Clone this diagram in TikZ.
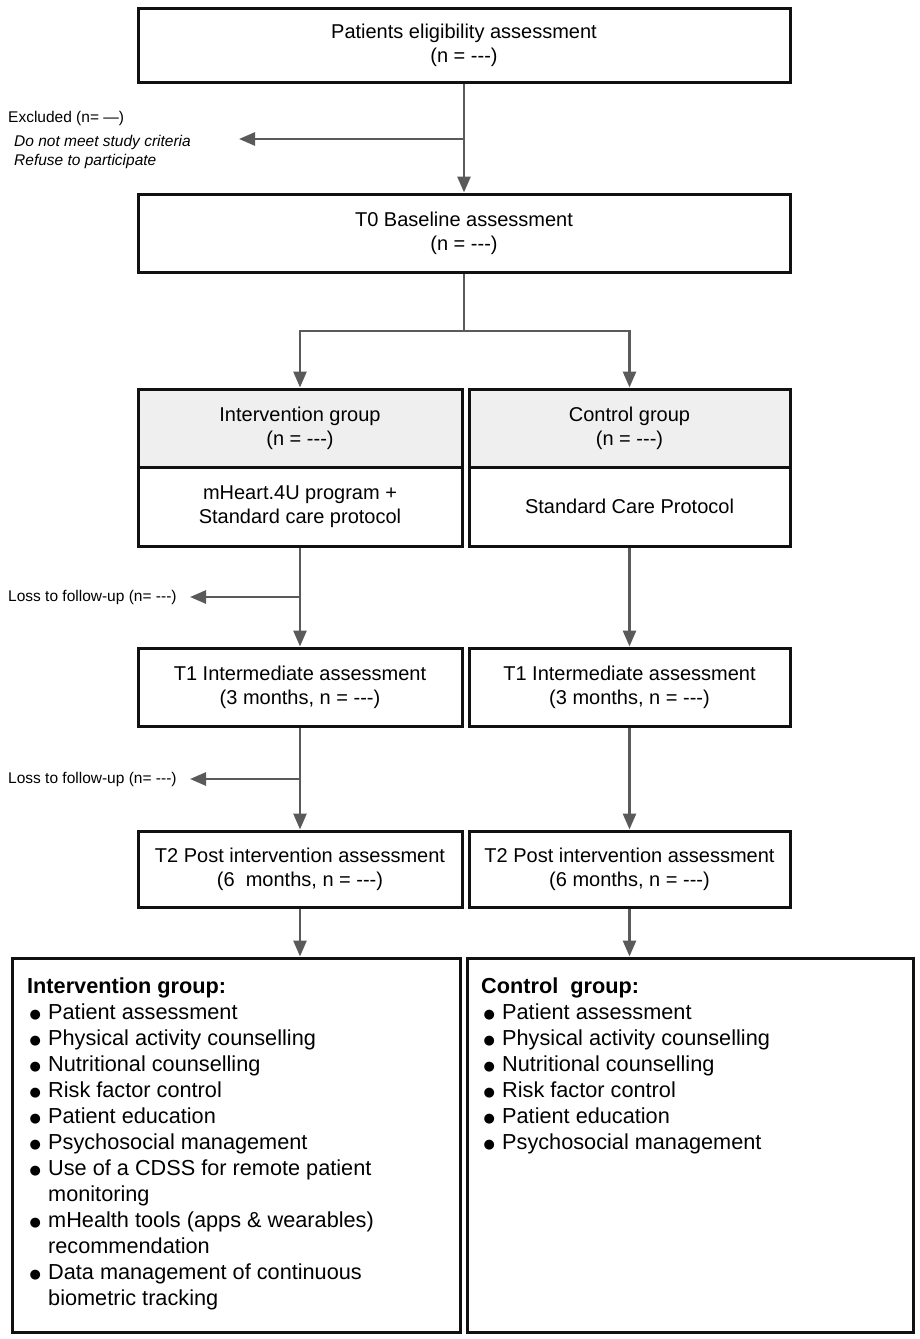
\documentclass[tikz,border=0pt]{standalone}
\usepackage{fontspec}
\setmainfont{Liberation Sans}
\newfontfamily\dejavu{DejaVu Sans}
\usetikzlibrary{arrows.meta}
\definecolor{boxc}{HTML}{111111}
\definecolor{connc}{HTML}{5A5A5A}
\definecolor{headc}{HTML}{EFEFEF}
\newcommand{\nd}{\mbox{-}\mbox{-}\mbox{-}}
\newcommand{\bul}{\makebox[21pt][l]{\hspace{2.3pt}\raisebox{1.2pt}{\dejavu\fontsize{13pt}{13pt}\selectfont ●}}}
\newcommand{\ind}{\hspace*{21pt}}
\begin{document}
\begin{tikzpicture}[x=1pt,y=-1pt,
  box/.style={draw=boxc,line width=3pt,inner sep=0pt,align=center,
    font=\fontsize{20pt}{24pt}\selectfont},
  head/.style={box,fill=headc},
  conn/.style={draw=connc,line width=2.7pt},
  arr/.style={conn,-{Triangle[length=16pt,width=13pt]}},
  small/.style={inner sep=0pt,font=\fontsize{15.5pt}{19.7pt}\selectfont},
  list/.style={inner sep=0pt,align=left,anchor=north west,
    font=\fontsize{21.7pt}{26pt}\selectfont}]
\useasboundingbox[fill=white] (0,0) rectangle (920,1339);

% boxes
\node[box,minimum width=652pt,minimum height=74pt] (elig) at (464,45)
  {Patients eligibility assessment\\(n = \nd)};
\node[box,minimum width=652pt,minimum height=78pt] (t0) at (464,233)
  {T0 Baseline assessment\\(n = \nd)};
\node[head,minimum width=324pt,minimum height=78pt] (ih) at (300,428)
  {Intervention group\\(n = \nd)};
\node[box,minimum width=324pt,minimum height=79pt] (ib) at (300,506.5)
  {mHeart.4U program +\\Standard care protocol};
\node[head,minimum width=321pt,minimum height=78pt] (ch) at (629.5,428)
  {Control group\\(n = \nd)};
\node[box,minimum width=321pt,minimum height=79pt] (cb) at (629.5,506.5)
  {Standard Care Protocol};
\node[box,minimum width=324pt,minimum height=78pt] (t1l) at (300,687)
  {T1 Intermediate assessment\\(3 months, n = \nd)};
\node[box,minimum width=321pt,minimum height=78pt] (t1r) at (629.5,687)
  {T1 Intermediate assessment\\(3 months, n = \nd)};
\node[box,minimum width=324pt,minimum height=76pt] (t2l) at (300,869)
  {T2 Post intervention assessment\\(6\ \ months, n = \nd)};
\node[box,minimum width=321pt,minimum height=76pt] (t2r) at (629.5,869)
  {T2 Post intervention assessment\\(6 months, n = \nd)};
\node[box,minimum width=448pt,minimum height=374pt] (bl) at (236,1145) {};
\node[box,minimum width=446pt,minimum height=374pt] (br) at (690,1145) {};

% list texts
\node[list] (blt) at (27,977.5) {\textbf{Intervention group:}\\
\bul Patient assessment\\
\bul Physical activity counselling\\
\bul Nutritional counselling\\
\bul Risk factor control\\
\bul Patient education\\
\bul Psychosocial management\\
\bul Use of a CDSS for remote patient\\
\ind monitoring\\
\bul mHealth tools (apps \& wearables)\\
\ind recommendation\\
\bul Data management of continuous\\
\ind biometric tracking};
\node[list] (brt) at (481,977.5) {\textbf{Control\ \ group:}\\
\bul Patient assessment\\
\bul Physical activity counselling\\
\bul Nutritional counselling\\
\bul Risk factor control\\
\bul Patient education\\
\bul Psychosocial management};

% side texts
\node[small,align=left,anchor=north west] (excl) at (8,111.5)
  {Excluded (n= —)\\[3.6pt]
   \hspace*{6pt}\textit{Do not meet study criteria}\\
   \hspace*{6pt}\textit{Refuse to participate}};
\node[small,anchor=west] (loss1) at (8,597) {Loss to follow-up (n= \nd)};
\node[small,anchor=west] (loss2) at (8,779) {Loss to follow-up (n= \nd)};

% connectors
\coordinate (exj) at (464,139);
\coordinate (ext) at (239,139);
\coordinate (split) at (464,331);
\coordinate (l1j) at (300,597);
\coordinate (l1t) at (190,597);
\coordinate (l2j) at (300,779);
\coordinate (l2t) at (190,779);

\draw[arr] (elig.south) -- (t0.north);
\draw[arr] (exj) -- (ext);
\draw[conn] (t0.south) -- (split);
\draw[arr] (split) -| (ih.north);
\draw[arr] (split) -| (ch.north);
\draw[arr] (ib.south) -- (t1l.north);
\draw[arr] (l1j) -- (l1t);
\draw[arr] (cb.south) -- (t1r.north);
\draw[arr] (t1l.south) -- (t2l.north);
\draw[arr] (l2j) -- (l2t);
\draw[arr] (t1r.south) -- (t2r.north);
\draw[arr] (t2l.south) -- (t2l.south |- bl.north);
\draw[arr] (t2r.south) -- (t2r.south |- br.north);
\end{tikzpicture}
\end{document}
